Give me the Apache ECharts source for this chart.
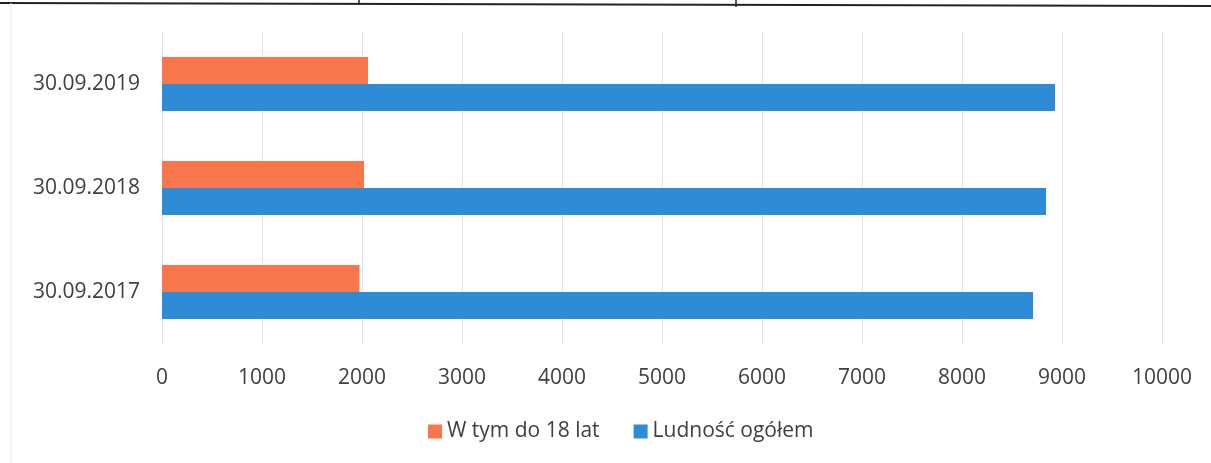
<!DOCTYPE html>
<html>
<head>
<meta charset="utf-8">
<script src="https://cdn.jsdelivr.net/npm/echarts@6/dist/echarts.min.js"></script>
<style>html,body{margin:0;padding:0;background:#fff}#c{width:1211px;height:463px}</style>
</head>
<body>
<div id="c"></div>
<script>
const categories = ['30.09.2017', '30.09.2018', '30.09.2019'];
const under18 = [1975, 2020, 2060];
const total = [8710, 8840, 8930];
const seriesNames = ['W tym do 18 lat', 'Ludność ogółem'];
const xTicks = [0, 1000, 2000, 3000, 4000, 5000, 6000, 7000, 8000, 9000, 10000];

const font = '"Open Sans", sans-serif';
const chart = echarts.init(document.getElementById('c'), null, {renderer: 'canvas'});
chart.setOption({
  animation: false,
  backgroundColor: '#fff',
  color: ['#F8764C', '#2E8BD6'],
  grid: {left: 162, right: 49, top: 32, bottom: 119, containLabel: false},
  legend: {
    data: seriesNames,
    bottom: 16,
    left: 423,
    itemWidth: 14, itemHeight: 14, itemGap: 34,
    icon: 'rect',
    textStyle: {fontFamily: font, fontSize: 21, color: '#404040', padding: [0, 0, 0, 0]}
  },
  xAxis: {
    type: 'value', min: xTicks[0], max: xTicks[xTicks.length - 1], interval: 1000,
    axisLine: {show: false}, axisTick: {show: false},
    splitLine: {show: true, lineStyle: {color: '#E3E3EA', width: 1}},
    axisLabel: {fontFamily: font, fontSize: 21, color: '#404040', margin: 24,
      formatter: v => String(v)}
  },
  yAxis: {
    type: 'category', data: categories,
    axisLine: {show: false}, axisTick: {show: false},
    axisLabel: {fontFamily: font, fontSize: 21, color: '#404040', margin: 22}
  },
  series: [
    {name: seriesNames[0], type: 'bar', data: under18, barGap: '0%', barCategoryGap: '48%'},
    {name: seriesNames[1], type: 'bar', data: total, barGap: '0%', barCategoryGap: '48%'}
  ],
  graphic: [
    {type: 'line', shape: {x1: 0, y1: 3, x2: 1211, y2: 6}, style: {stroke: '#222', lineWidth: 2}},
    {type: 'line', shape: {x1: 359, y1: 0, x2: 359, y2: 5}, style: {stroke: '#222', lineWidth: 1.5}},
    {type: 'line', shape: {x1: 736, y1: 0, x2: 736, y2: 7}, style: {stroke: '#222', lineWidth: 1.5}},
    {type: 'line', shape: {x1: 11, y1: 3, x2: 11, y2: 463}, style: {stroke: '#E6E6EC', lineWidth: 1}}
  ]
});
</script>
</body>
</html>
